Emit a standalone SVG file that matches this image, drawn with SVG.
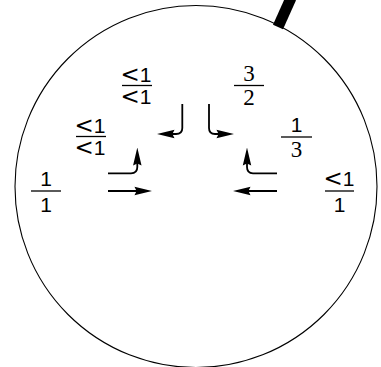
<svg xmlns="http://www.w3.org/2000/svg" width="381" height="367" viewBox="0 0 381 367">
<style>
.t{font-family:"Liberation Sans",Arial,sans-serif;font-size:21px;fill:#000;text-anchor:middle}
.s{font-family:"Liberation Serif","Times New Roman",serif;font-size:23px;fill:#000;text-anchor:middle}
.lt{font-family:"DejaVu Sans",sans-serif;font-size:23px}
.bar{stroke:#000;stroke-width:1.3}
.c{fill:none;stroke:#000;stroke-width:1.8;marker-end:url(#ah)}
</style>
<defs>
<marker id="ah" markerUnits="userSpaceOnUse" markerWidth="18" markerHeight="10" viewBox="0 0 17 8" refX="9" refY="4" orient="auto">
<path d="M0,0 L17,4 L0,8 L2,4 z" fill="#000"/>
</marker>
</defs>
<circle cx="196" cy="186.5" r="181" fill="#fff" stroke="#000" stroke-width="1.1"/>
<line x1="278" y1="27" x2="291" y2="-2" stroke="#000" stroke-width="11"/>
<g id="n1"><text class="t" x="46" y="186">1</text><line class="bar" x1="31" y1="191" x2="61" y2="191"/><text class="t" x="46" y="211.5">1</text></g>
<g id="n2"><text class="t" x="90" y="132.5"><tspan class="lt">&lt;</tspan>1</text><line class="bar" x1="76" y1="136.5" x2="106" y2="136.5"/><text class="t" x="90" y="155"><tspan class="lt">&lt;</tspan>1</text></g>
<g id="n3"><text class="t" x="136" y="81.5"><tspan class="lt">&lt;</tspan>1</text><line class="bar" x1="122" y1="85.5" x2="152" y2="85.5"/><text class="t" x="136" y="104"><tspan class="lt">&lt;</tspan>1</text></g>
<g id="n4"><text class="s" x="249" y="81">3</text><line class="bar" x1="234" y1="85.5" x2="264" y2="85.5"/><text class="s" x="249" y="105">2</text></g>
<g id="n5"><text class="t" x="296.5" y="132">1</text><line class="bar" x1="281" y1="137" x2="312" y2="137"/><text class="s" x="296.5" y="157">3</text></g>
<g id="n6"><text class="t" x="339" y="186"><tspan class="lt">&lt;</tspan>1</text><line class="bar" x1="325" y1="191" x2="354" y2="191"/><text class="t" x="339.5" y="211.5">1</text></g>
<g id="connectors">
<path class="c" d="M108,191 H144"/>
<path class="c" d="M277,191 H241"/>
<path class="c" d="M108,173.3 H131 Q137.3,173.3 137.3,167 V156"/>
<path class="c" d="M277,173.3 H253 Q247,173.3 247,167 V156"/>
<path class="c" d="M182.3,104 V128 Q182.3,134 176,134 H165"/>
<path class="c" d="M209,104 V128 Q209,134 215,134 H226"/>
</g>
</svg>
